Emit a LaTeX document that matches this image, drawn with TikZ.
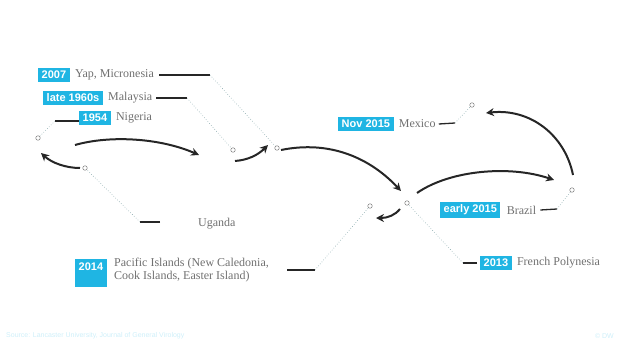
\documentclass[tikz,border=0pt]{standalone}
\usepackage{fontspec}
\setmainfont{Liberation Serif}
\newfontfamily\yearfont{Liberation Sans}
\usetikzlibrary{positioning,arrows.meta}
\definecolor{dwcyan}{HTML}{1FB5E3}
\definecolor{placegray}{HTML}{707070}
\definecolor{leadgray}{HTML}{8AA9AD}
\definecolor{hopblack}{HTML}{262626}

\begin{document}
\begin{tikzpicture}[x=1pt,y=-1pt,
    yearbox/.style={fill=dwcyan, text=white, anchor=west, inner xsep=3.5pt, inner ysep=3pt,
        font=\yearfont\bfseries\fontsize{11}{12}\selectfont},
    place/.style={text=placegray, inner sep=1pt, align=left, font=\fontsize{12}{13}\selectfont},
    stub/.style={line width=1.3pt, color=hopblack},
    leader/.style={line width=0.6pt, color=leadgray, dotted},
    spot/.style={circle, draw=gray, line width=0.5pt, fill=white, inner sep=0pt, minimum size=4.5pt},
    hop/.style={line width=2pt, color=hopblack, -{Stealth[length=8pt,width=8pt]}}]
    %%%%% START %%%%%

    \useasboundingbox (0,0) rectangle (621,343);

    % spots on the map
    \node[spot] (sYap) at (277,148) {};
    \node[spot] (sMal) at (233,150) {};
    \node[spot] (sNig) at (38,138) {};
    \node[spot] (sUga) at (85,168) {};
    \node[spot] (sMex) at (472,105) {};
    \node[spot] (sBra) at (572,190) {};
    \node[spot] (sFre) at (407,203) {};
    \node[spot] (sPac) at (370,206) {};

    % 2007
    \node[yearbox] (y2007) at (38,75) {2007};
    \node[place, right=4pt of y2007] (tYap) {Yap, Micronesia};
    \coordinate (bYap) at (210,75);
    \draw[stub] ([xshift=4pt]tYap.east) -- (bYap);
    \draw[leader] (bYap) -- (sYap);

    % late 1960s
    \node[yearbox] (y1960) at (43,98) {late 1960s};
    \node[place, right=4pt of y1960] (tMal) {Malaysia};
    \coordinate (bMal) at (187,98);
    \draw[stub] ([xshift=3pt]tMal.east) -- (bMal);
    \draw[leader] (bMal) -- (sMal);

    % 1954
    \node[yearbox] (y1954) at (79,118) {1954};
    \node[place, right=4pt of y1954] (tNig) {Nigeria};
    \coordinate (aNig) at (79,121);
    \coordinate (bNig) at (55,121);
    \draw[stub] (aNig) -- (bNig);
    \draw[leader] (bNig) -- (sNig);

    % Uganda
    \node[place, anchor=west] (tUga) at (197,224) {Uganda};
    \coordinate (bUga) at (140,222);
    \coordinate (eUga) at (160,222);
    \draw[stub] (eUga) -- (bUga);
    \draw[leader] (bUga) -- (sUga);

    % 2014
    \node[yearbox, text height=8pt, text depth=14pt] (y2014) at (75,273) {2014};
    \node[place, anchor=north west] (tPac) at (113,257) {Pacific Islands (New Caledonia,\\Cook Islands, Easter Island)};
    \coordinate (aPac) at (287,270);
    \coordinate (bPac) at (315,270);
    \draw[stub] (aPac) -- (bPac);
    \draw[leader] (bPac) -- (sPac);

    % Nov 2015
    \node[yearbox] (y2015n) at (338,124) {Nov 2015};
    \node[place, right=4pt of y2015n] (tMex) {Mexico};
    \coordinate (bMex) at (455,123);
    \draw[stub] ([xshift=2pt]tMex.east) -- (bMex);
    \draw[leader] (bMex) -- (sMex);

    % early 2015
    \node[yearbox] (y2015e) at (440,210) {early 2015};
    \node[place, right=5pt of y2015e] (tBra) {Brazil};
    \coordinate (bBra) at (557,209);
    \draw[stub] ([xshift=3pt]tBra.east) -- (bBra);
    \draw[leader] (bBra) -- (sBra);

    % 2013
    \node[yearbox] (y2013) at (480,263) {2013};
    \node[place, right=4pt of y2013] (tFre) {French Polynesia};
    \coordinate (bFre) at (463,263);
    \draw[stub] ([xshift=-3pt]y2013.west) -- (bFre);
    \draw[leader] (bFre) -- (sFre);

    % spread of the virus
    \coordinate (h1a) at (75,145);   \coordinate (h1b) at (199,155);
    \coordinate (h2a) at (80,168);   \coordinate (h2b) at (41,153);
    \coordinate (h3a) at (235,161);  \coordinate (h3b) at (268,145);
    \coordinate (h4a) at (281,150);  \coordinate (h4b) at (401,191);
    \coordinate (h5a) at (417,193);  \coordinate (h5b) at (554,180);
    \coordinate (h6a) at (573,175);  \coordinate (h6b) at (486,113);
    \coordinate (h7a) at (400,209);  \coordinate (h7b) at (376,218);

    \draw[hop] (h1a) .. controls (110,135) and (160,138) .. (h1b);
    \draw[hop] (h2a) .. controls (66,168) and (52,163) .. (h2b);
    \draw[hop] (h3a) .. controls (248,160) and (258,155) .. (h3b);
    \draw[hop] (h4a) .. controls (330,140) and (370,158) .. (h4b);
    \draw[hop] (h5a) .. controls (450,170) and (510,165) .. (h5b);
    \draw[hop] (h6a) .. controls (565,135) and (530,108) .. (h6b);
    \draw[hop] (h7a) .. controls (395,215) and (388,218) .. (h7b);

    % footer
    \node[anchor=west, text=dwcyan!22, inner sep=0pt, font=\yearfont\fontsize{7}{8}\selectfont] (src) at (6,336) {Source: Lancaster University, Journal of General Virology};
    \node[anchor=east, text=dwcyan!22, inner sep=0pt, font=\yearfont\fontsize{7}{8}\selectfont] (dw) at (614,336) {\textcopyright{} DW};

    %%%%% END %%%%%
\end{tikzpicture}
\end{document}
